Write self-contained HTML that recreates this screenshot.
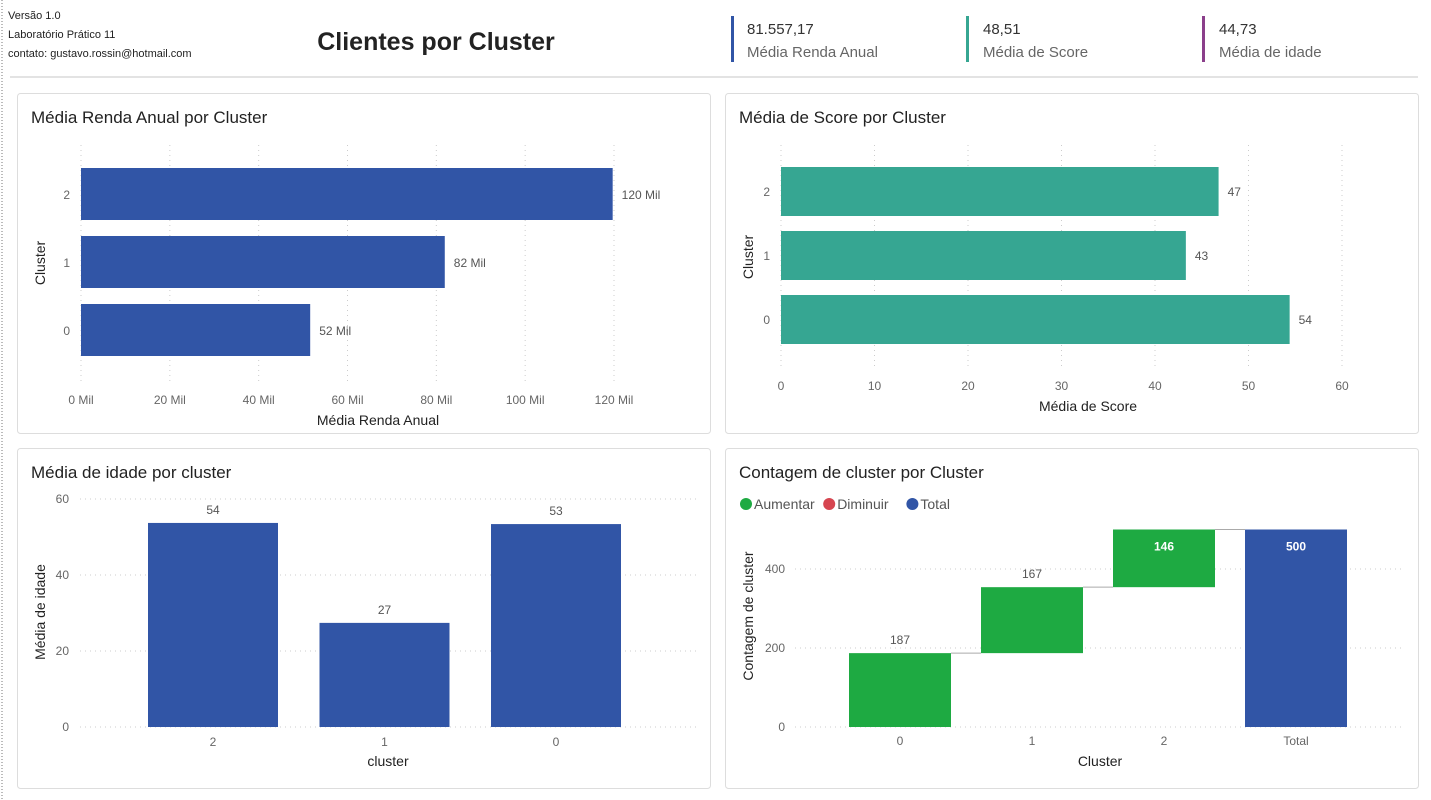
<!DOCTYPE html>
<html><head><meta charset="utf-8"><style>
body{margin:0;background:#fff;width:1431px;height:800px;overflow:hidden;font-family:"Liberation Sans",sans-serif}
svg{display:block}
text{font-family:"Liberation Sans",sans-serif}
</style></head><body>
<svg id="s" width="1431" height="800" xmlns="http://www.w3.org/2000/svg">
<line x1="2" y1="0" x2="2" y2="800" stroke="#777" stroke-dasharray="1,2"/>
<text x="8" y="19" font-size="11" fill="#222">Versão 1.0</text>
<text x="8" y="38" font-size="11" fill="#222">Laboratório Prático 11</text>
<text x="8" y="57" font-size="11" fill="#222">contato: gustavo.rossin@hotmail.com</text>
<text x="436" y="50" font-size="25" font-weight="bold" fill="#222" text-anchor="middle">Clientes por Cluster</text>
<g><rect x="731" y="16" width="3" height="46" fill="#3155a6"/><text x="747" y="34" font-size="15" fill="#333">81.557,17</text><text x="747" y="57" font-size="15" fill="#666">Média Renda Anual</text></g>
<g><rect x="966" y="16" width="3" height="46" fill="#36a692"/><text x="983" y="34" font-size="15" fill="#333">48,51</text><text x="983" y="57" font-size="15" fill="#666">Média de Score</text></g>
<g><rect x="1202" y="16" width="3" height="46" fill="#8b3f8b"/><text x="1219" y="34" font-size="15" fill="#333">44,73</text><text x="1219" y="57" font-size="15" fill="#666">Média de idade</text></g>
<line x1="10" y1="77" x2="1418" y2="77" stroke="#e3e3e3" stroke-width="2"/>
<rect x="17.5" y="93.5" width="693" height="340" rx="3" fill="#fff" stroke="#ddd"/>
<rect x="725.5" y="93.5" width="693" height="340" rx="3" fill="#fff" stroke="#ddd"/>
<rect x="17.5" y="448.5" width="693" height="340" rx="3" fill="#fff" stroke="#ddd"/>
<rect x="725.5" y="448.5" width="693" height="340" rx="3" fill="#fff" stroke="#ddd"/>
<text x="31" y="123" font-size="17" fill="#222">Média Renda Anual por Cluster</text>
<text x="739" y="123" font-size="17" fill="#222">Média de Score por Cluster</text>
<text x="31" y="478" font-size="17" fill="#222">Média de idade por cluster</text>
<text x="739" y="478" font-size="17" fill="#222">Contagem de cluster por Cluster</text>
<g id="c1"></g><g id="c2"></g><g id="c3"></g><g id="c4"></g>
</svg>
<script>
const NS="http://www.w3.org/2000/svg";
const rendaCats=["2","1","0"];
const rendaVals=[119700,81900,51600];
const rendaTicks=[0,20000,40000,60000,80000,100000,120000];
const scoreCats=["2","1","0"];
const scoreVals=[46.8,43.3,54.4];
const scoreTicks=[0,10,20,30,40,50,60];
const idadeCats=["2","1","0"];
const idadeVals=[53.7,27.4,53.4];
const idadeTicks=[0,20,40,60];
const contCats=["0","1","2"];
const contVals=[187,167,146];
const contTicks=[0,200,400];
function el(p,t,a,txt){const e=document.createElementNS(NS,t);for(const k in a)e.setAttribute(k,a[k]);if(txt!==undefined)e.textContent=txt;p.appendChild(e);return e;}
// chart 1
(function(){const g=document.getElementById('c1');
const x=v=>81+v*(533/120000);const bandY=i=>168+i*68;
rendaTicks.forEach(t=>{const l=el(g,'line',{x1:x(t),x2:x(t),y1:145,y2:382,stroke:'#ccc','stroke-dasharray':'1,4'});


const tx=el(g,'text',{x:x(t),y:404,'font-size':12,fill:'#666','text-anchor':'middle'},(t/1000)+' Mil');

});
rendaCats.forEach((c,i)=>{const r=el(g,'rect',{x:x(0),y:bandY(i),width:x(rendaVals[i])-x(0),height:52,fill:'#3155a6'});


const lb=el(g,'text',{x:x(rendaVals[i])+9,y:bandY(i)+31,'font-size':12,fill:'#555'},Math.round(rendaVals[i]/1000)+' Mil');


const ct=el(g,'text',{x:70,y:bandY(i)+31,'font-size':12,fill:'#666','text-anchor':'end'},c);

});
const xt=el(g,'text',{x:378,y:425,'font-size':14,fill:'#222','text-anchor':'middle'},'Média Renda Anual');


const yt=el(g,'text',{x:0,y:0,'font-size':14,fill:'#222','text-anchor':'middle',transform:'translate(45,263) rotate(-90)'},'Cluster');

})();
// chart 2
(function(){const g=document.getElementById('c2');
const x=v=>781+v*(561/60);const bandY=i=>167+i*64;
scoreTicks.forEach(t=>{const l=el(g,'line',{x1:x(t),x2:x(t),y1:145,y2:368,stroke:'#ccc','stroke-dasharray':'1,4'});


const tx=el(g,'text',{x:x(t),y:390,'font-size':12,fill:'#666','text-anchor':'middle'},String(t));

});
scoreCats.forEach((c,i)=>{const r=el(g,'rect',{x:x(0),y:bandY(i),width:x(scoreVals[i])-x(0),height:49,fill:'#36a692'});


const lb=el(g,'text',{x:x(scoreVals[i])+9,y:bandY(i)+29,'font-size':12,fill:'#555'},String(Math.round(scoreVals[i])));


const ct=el(g,'text',{x:770,y:bandY(i)+29,'font-size':12,fill:'#666','text-anchor':'end'},c);

});
const xt=el(g,'text',{x:1088,y:411,'font-size':14,fill:'#222','text-anchor':'middle'},'Média de Score');


const yt=el(g,'text',{x:0,y:0,'font-size':14,fill:'#222','text-anchor':'middle',transform:'translate(753,257) rotate(-90)'},'Cluster');

})();
// chart 3
(function(){const g=document.getElementById('c3');
const y=v=>727-v*(228/60);const bandX=i=>148+i*171.5;
idadeTicks.forEach(t=>{const l=el(g,'line',{x1:80,x2:700,y1:y(t),y2:y(t),stroke:'#ccc','stroke-dasharray':'1,4'});


const tx=el(g,'text',{x:69,y:y(t)+4,'font-size':12,fill:'#666','text-anchor':'end'},String(t));

});
idadeCats.forEach((c,i)=>{const r=el(g,'rect',{x:bandX(i),y:y(idadeVals[i]),width:130,height:y(0)-y(idadeVals[i]),fill:'#3155a6'});


const lb=el(g,'text',{x:bandX(i)+65,y:y(idadeVals[i])-9,'font-size':12,fill:'#555','text-anchor':'middle'},String(Math.round(idadeVals[i])));


const ct=el(g,'text',{x:bandX(i)+65,y:746,'font-size':12,fill:'#666','text-anchor':'middle'},c);

});
const xt=el(g,'text',{x:388,y:766,'font-size':14,fill:'#222','text-anchor':'middle'},'cluster');


const yt=el(g,'text',{x:0,y:0,'font-size':14,fill:'#222','text-anchor':'middle',transform:'translate(45,612) rotate(-90)'},'Média de idade');

})();
// chart 4 waterfall
(function(){const g=document.getElementById('c4');
const y=v=>727-v*(158/400);const cx=i=>900+i*132;const bw=102;
contTicks.forEach(t=>{const l=el(g,'line',{x1:795,x2:1402,y1:y(t),y2:y(t),stroke:'#ccc','stroke-dasharray':'1,4'});


const tx=el(g,'text',{x:785,y:y(t)+4,'font-size':12,fill:'#666','text-anchor':'end'},String(t));

});
const leg=[['Aumentar','#1eaa42'],['Diminuir','#d64550'],['Total','#3155a6']];let lx=740;
leg.forEach(([n,c])=>{const d=el(g,'circle',{cx:lx+6,cy:504,r:6,fill:c});


const t=el(g,'text',{x:lx+14,y:509,'font-size':14,fill:'#555'},n);


lx+=14+n.length*7.9+6;});
let cum=0;const all=contCats.concat(['Total']);
all.forEach((c,i)=>{let lo,hi,col;if(c==='Total'){lo=0;hi=cum;col='#3155a6';}else{lo=cum;hi=cum+contVals[i];cum=hi;col='#1eaa42';}
const r=el(g,'rect',{x:cx(i)-bw/2,y:y(hi),width:bw,height:y(lo)-y(hi),fill:col});


if(i<all.length-1){const cn=el(g,'line',{x1:cx(i)+bw/2,x2:cx(i+1)-bw/2,y1:y(hi),y2:y(hi),stroke:'#aaa'});

}
const val=c==='Total'?cum:contVals[i];const inside=y(hi)<540;
const lb=el(g,'text',{x:cx(i),y:inside?y(hi)+21:y(hi)-9,'font-size':12,fill:inside?'#fff':'#555','font-weight':inside?'bold':'normal','text-anchor':'middle'},String(val));


const ct=el(g,'text',{x:cx(i),y:745,'font-size':12,fill:'#666','text-anchor':'middle'},c);

});
const xt=el(g,'text',{x:1100,y:766,'font-size':14,fill:'#222','text-anchor':'middle'},'Cluster');


const yt=el(g,'text',{x:0,y:0,'font-size':14,fill:'#222','text-anchor':'middle',transform:'translate(753,616) rotate(-90)'},'Contagem de cluster');

})();
</script>
</body></html>
